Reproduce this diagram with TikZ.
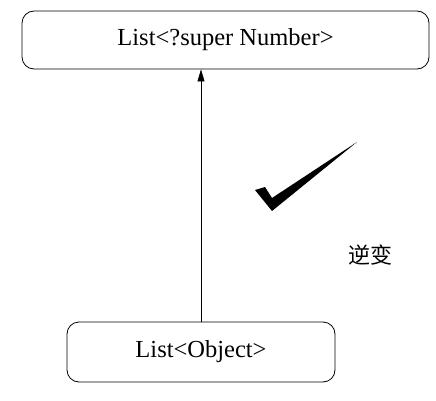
\documentclass[tikz,border=0pt]{standalone}
\usepackage{fontspec}
\setmainfont{Liberation Serif}
\newfontfamily\cjk{Noto Sans CJK SC}
\usepackage{tikz}
\usetikzlibrary{arrows.meta,positioning}
\tikzset{
  tbox/.style={draw,rounded corners=12pt,thick,align=center,inner sep=0pt,
    font=\fontsize{24.5}{28}\selectfont},
  tflow/.style={-{Triangle[length=12pt,width=7pt]},semithick},
}
\begin{document}
\begin{tikzpicture}[x=1pt,y=1pt]
\useasboundingbox (0,0) rectangle (436,400);
\node[tbox,minimum width=407pt,minimum height=58pt] (sup) at (225.5,360) {List<?super Number>};
\node[tbox,minimum width=268pt,minimum height=60pt] (obj) at (201,48) {List<Object>};
\draw[tflow] (obj.north) -- (obj.north |- sup.south);
% check mark
\fill (255,210) -- (265,213) -- (272,202) -- (357,258) -- (272,189) -- cycle;
\node[font=\cjk\fontsize{22}{26}\selectfont] (lbl) at (370,145) {逆变};
\end{tikzpicture}
\end{document}
